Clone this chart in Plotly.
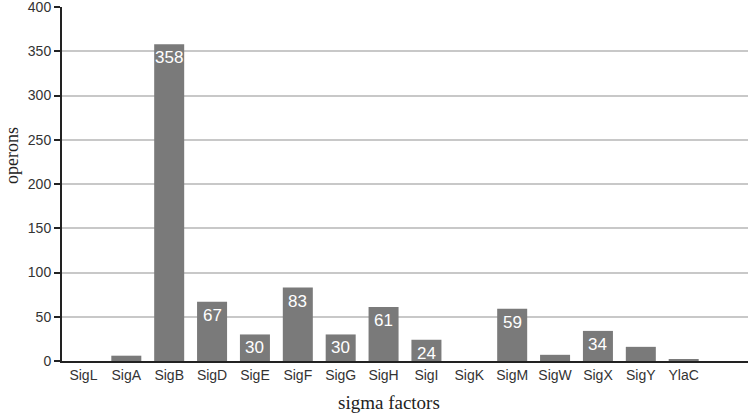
import plotly.graph_objects as go

categories = ["SigL", "SigA", "SigB", "SigD", "SigE", "SigF", "SigG", "SigH",
              "SigI", "SigK", "SigM", "SigW", "SigX", "SigY", "YlaC"]
operons = [0, 6, 358, 67, 30, 83, 30, 61, 24, 0, 59, 7, 34, 16, 2]
label_min = 20
y_ticks = [0, 50, 100, 150, 200, 250, 300, 350, 400]

fig = go.Figure()
fig.add_trace(go.Bar(
    x=categories, y=operons,
    marker=dict(color="#7a7a7a", line=dict(width=0)),
    width=0.7, hoverinfo="x+y",
))

for c, v in zip(categories, operons):
    if v >= label_min:
        fig.add_annotation(
            x=c, y=v, text=str(v), showarrow=False,
            yanchor="top", yshift=-2,
            font=dict(family="Liberation Sans, Arial", size=17, color="white"),
        )

fig.add_annotation(text="sigma factors", xref="paper", yref="paper",
                   x=0.4767, y=-0.117, xanchor="center", yanchor="middle",
                   showarrow=False,
                   font=dict(family="Liberation Serif, Times New Roman", size=19, color="#222"))
fig.add_annotation(text="operons", xref="paper", yref="paper",
                   x=-0.074, y=0.58, xanchor="center", yanchor="middle",
                   textangle=-90, showarrow=False,
                   font=dict(family="Liberation Serif, Times New Roman", size=18, color="#222"))

fig.update_layout(
    width=750, height=413,
    margin=dict(l=62, r=2, t=7, b=52),
    paper_bgcolor="white", plot_bgcolor="white",
    showlegend=False,
    xaxis=dict(
        type="category", range=[-0.5, 15.5],
        showline=True, linecolor="#222", linewidth=2,
        ticks="", showgrid=False, automargin=False,
        tickfont=dict(family="Liberation Sans, Arial", size=14, color="#333"),
    ),
    yaxis=dict(
        range=[0, 400], tickvals=y_ticks,
        showline=True, linecolor="#222", linewidth=2,
        ticks="outside", ticklen=6, tickcolor="#222", tickwidth=2,
        showgrid=True, gridcolor="#c8c8c8", gridwidth=1.5,
        zeroline=False, automargin=False, ticklabeloverflow="allow",
        tickfont=dict(family="Liberation Sans, Arial", size=14, color="#333"),
    ),
)

fig.write_html("out.html", config={"displayModeBar": False},
               post_script="document.body.style.margin='0';")
